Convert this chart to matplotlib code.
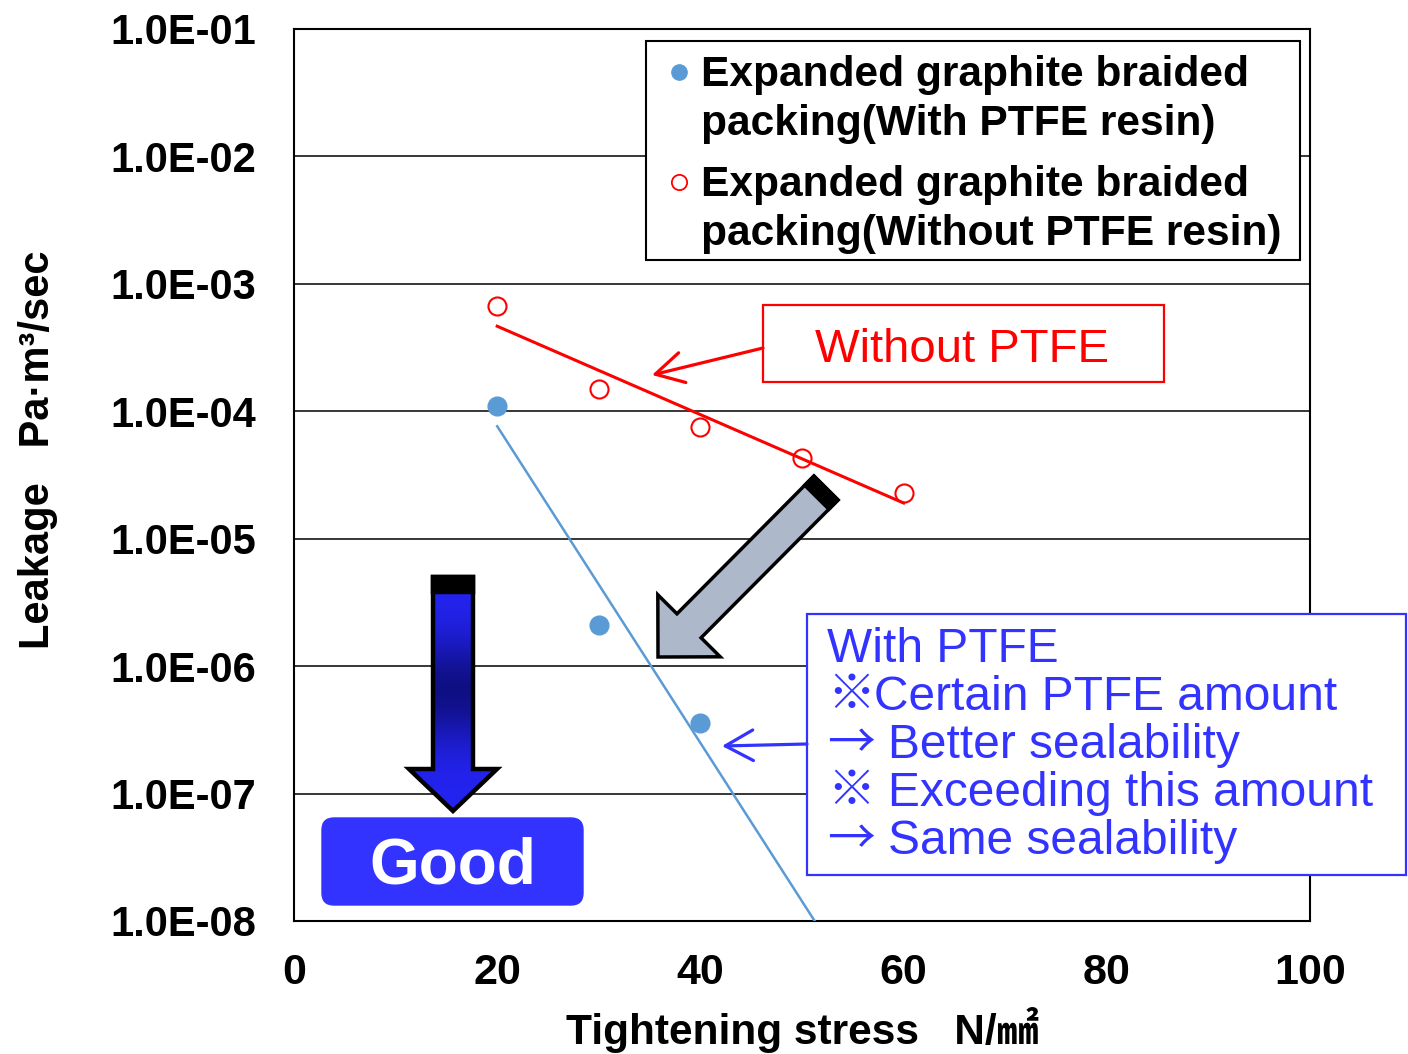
import numpy as np
import matplotlib
matplotlib.use("Agg")
import matplotlib.pyplot as plt
from matplotlib.patches import Polygon, Rectangle, FancyBboxPatch, FancyArrowPatch

# ---- data -------------------------------------------------------------
with_ptfe_x = [20, 30, 40]
with_ptfe_leak = [1.1e-4, 2.1e-6, 3.6e-7]
without_ptfe_x = [20, 30, 40, 50, 60]
without_ptfe_leak = [6.7e-4, 1.49e-4, 7.5e-5, 4.3e-5, 2.3e-5]

x_ticks = [0, 20, 40, 60, 80, 100]
y_ticks = [1e-8, 1e-7, 1e-6, 1e-5, 1e-4, 1e-3, 1e-2, 1e-1]
y_tick_labels = ["1.0E-08", "1.0E-07", "1.0E-06", "1.0E-05",
                 "1.0E-04", "1.0E-03", "1.0E-02", "1.0E-01"]

legend_with = ["Expanded graphite braided", "packing(With PTFE resin)"]
legend_without = ["Expanded graphite braided", "packing(Without PTFE resin)"]
# (leading symbol, text) for each line of the note
note_lines = [("", "With PTFE"), ("※", "Certain PTFE amount"), ("→", "Better sealability"),
              ("※", "Exceeding this amount"), ("→", "Same sealability")]

BLUE_PT = "#5B9BD5"
RED = "#FF0000"
NOTE_BLUE = "#3333FF"
FAM = ["Liberation Sans", "Noto Sans CJK JP", "DejaVu Sans"]
CJK = ["Noto Sans CJK JP", "DejaVu Sans"]

plt.rcParams["font.family"] = FAM

W, H = 1408, 1054
fig = plt.figure(figsize=(W / 100, H / 100), dpi=100)
ax = fig.add_axes([294 / W, 1 - 921 / H, 1016 / W, 892 / H])

ax.set_yscale("log")
ax.set_xlim(0, 100)
ax.set_ylim(1e-8, 1e-1)
ax.set_xticks(x_ticks)
ax.set_yticks(y_ticks, y_tick_labels)
ax.minorticks_off()
ax.tick_params(axis="both", length=0)
ax.tick_params(axis="y", pad=27, labelsize=30)
ax.tick_params(axis="x", pad=23, labelsize=31)
for lab in ax.get_xticklabels() + ax.get_yticklabels():
    lab.set_fontweight("bold")
ax.grid(axis="y", color="black", linewidth=1.1)
ax.set_axisbelow(True)
for sp in ax.spines.values():
    sp.set_linewidth(1.5)

# exponential trend lines (least squares on log10 of leakage)
fit_with = np.polyfit(with_ptfe_x, np.log10(with_ptfe_leak), 1)
fit_without = np.polyfit(without_ptfe_x, np.log10(without_ptfe_leak), 1)
xs_with = np.linspace(min(with_ptfe_x), 60, 300)
xs_without = np.linspace(min(without_ptfe_x), max(without_ptfe_x), 300)
ax.plot(xs_with, 10 ** np.polyval(fit_with, xs_with), color=BLUE_PT, lw=1.8, zorder=3)
ax.plot(xs_without, 10 ** np.polyval(fit_without, xs_without), color=RED, lw=2.2, zorder=3)

ax.plot(with_ptfe_x, with_ptfe_leak, "o", ms=13.5, color=BLUE_PT, mec=BLUE_PT, zorder=4)
ax.plot(without_ptfe_x, without_ptfe_leak, "o", ms=13, mfc="none", mec=RED, mew=1.5, zorder=4)

ax.set_xlabel("Tightening stress   N/㎟", fontsize=30.5, fontweight="bold")
ax.xaxis.set_label_coords(0.5, -0.096)
ax.set_ylabel("Leakage   Pa·m³/sec", fontsize=30, fontweight="bold")
ax.yaxis.set_label_coords(-0.232, 0.528)

# ---- overlay in figure pixel coordinates for callouts ----------------
ov = fig.add_axes([0, 0, 1, 1], zorder=5)
ov.set_xlim(0, W)
ov.set_ylim(H, 0)
ov.axis("off")
ov.patch.set_visible(False)

# legend box
ov.add_patch(Rectangle((646, 41), 654, 219, facecolor="white", edgecolor="black", lw=1.5))
ov.plot([679], [72], "o", ms=11, color=BLUE_PT)
ov.plot([679], [182], "o", ms=11, mfc="none", mec=RED, mew=1.3)
for i, txt in enumerate(legend_with):
    ov.text(701, 86 + 49 * i, txt, fontsize=30.6, fontweight="bold", va="baseline", ha="left")
for i, txt in enumerate(legend_without):
    ov.text(701, 196 + 49 * i, txt, fontsize=30.6, fontweight="bold", va="baseline", ha="left")

# "Without PTFE" callout
ov.add_patch(Rectangle((763, 305), 401, 77, facecolor="white", edgecolor=RED, lw=1.6))
ov.text(962, 362, "Without PTFE", color=RED, fontsize=34, ha="center", va="baseline")
ov.add_patch(FancyArrowPatch((763, 348), (652, 375), arrowstyle="->,head_length=1.0,head_width=0.55",
                             mutation_scale=20, color=RED, lw=2.3, shrinkA=0, shrinkB=0))

# "With PTFE" note
ov.add_patch(Rectangle((807, 614), 599, 261, facecolor="white", edgecolor=NOTE_BLUE, lw=1.6))
for i, (sym, txt) in enumerate(note_lines):
    base = 662 + 48 * i
    if sym == "":
        ov.text(827, base, txt, color=NOTE_BLUE, fontsize=34.5, ha="left", va="baseline")
    else:
        ov.text(827, base, sym, color=NOTE_BLUE, fontsize=34.5, ha="left", va="baseline", family=CJK)
        tx = 874 if (i == 1) else 888
        ov.text(tx, base, txt, color=NOTE_BLUE, fontsize=34.5, ha="left", va="baseline")
ov.add_patch(FancyArrowPatch((807, 744), (722, 746), arrowstyle="->,head_length=1.0,head_width=0.55",
                             mutation_scale=20, color=NOTE_BLUE, lw=2.3, shrinkA=0, shrinkB=0))


def block_arrow(tail, tip, half_w, head_half_w, head_len):
    t = np.asarray(tail, float)
    p = np.asarray(tip, float)
    d = p - t
    L = np.hypot(*d)
    u = d / L
    v = np.array([-u[1], u[0]])
    local = [(0, -half_w), (L - head_len, -half_w), (L - head_len, -head_half_w), (L, 0),
             (L - head_len, head_half_w), (L - head_len, half_w), (0, half_w)]
    pts = np.array([t + a * u + c * v for a, c in local])
    return pts, t, u, v


def cap_band(t, u, v, half_w, depth):
    local = [(0, -half_w), (depth, -half_w), (depth, half_w), (0, half_w)]
    return np.array([t + a * u + c * v for a, c in local])


# grey diagonal block arrow
pts, t, u, v = block_arrow((826, 488), (658, 657), 17, 44, 44)
ov.add_patch(Polygon(pts, closed=True, facecolor="#ADB9CA", edgecolor="black", lw=2.5, joinstyle="miter"))
ov.add_patch(Polygon(cap_band(t, u, v, 17, 13), closed=True, facecolor="black", edgecolor="black", lw=2.5))

# blue gradient "Good" arrow
pts, t, u, v = block_arrow((453, 577), (453, 811), 20, 44, 42)
shape = Polygon(pts, closed=True, facecolor="none", edgecolor="none")
ov.add_patch(shape)
yy = np.linspace(0, 1, 256)
mid = 0.48
shade = np.exp(-((yy - mid) / 0.22) ** 2)
top_c = np.array([0.14, 0.14, 0.95])
dark_c = np.array([0.06, 0.06, 0.52])
grad = top_c[None, :] * (1 - shade[:, None]) + dark_c[None, :] * shade[:, None]
img = ov.imshow(grad[:, None, :], extent=(400, 506, 815, 575), origin="upper",
                aspect="auto", interpolation="bilinear", zorder=2)
img.set_clip_path(shape)
ov.add_patch(Polygon(pts, closed=True, facecolor="none", edgecolor="black", lw=3.2, joinstyle="miter", zorder=3))
ov.add_patch(Polygon(cap_band(t, u, v, 20, 15), closed=True, facecolor="black", edgecolor="black", lw=3.2, zorder=3))
ov.set_xlim(0, W)
ov.set_ylim(H, 0)

# "Good" badge
ov.add_patch(FancyBboxPatch((322, 818), 261, 87, boxstyle="round,pad=0,rounding_size=12",
                            facecolor=NOTE_BLUE, edgecolor=NOTE_BLUE, lw=1, zorder=3))
ov.text(453, 884, "Good", color="white", fontsize=46, fontweight="bold",
        ha="center", va="baseline", zorder=4)

fig.savefig("out.png", dpi=100)
